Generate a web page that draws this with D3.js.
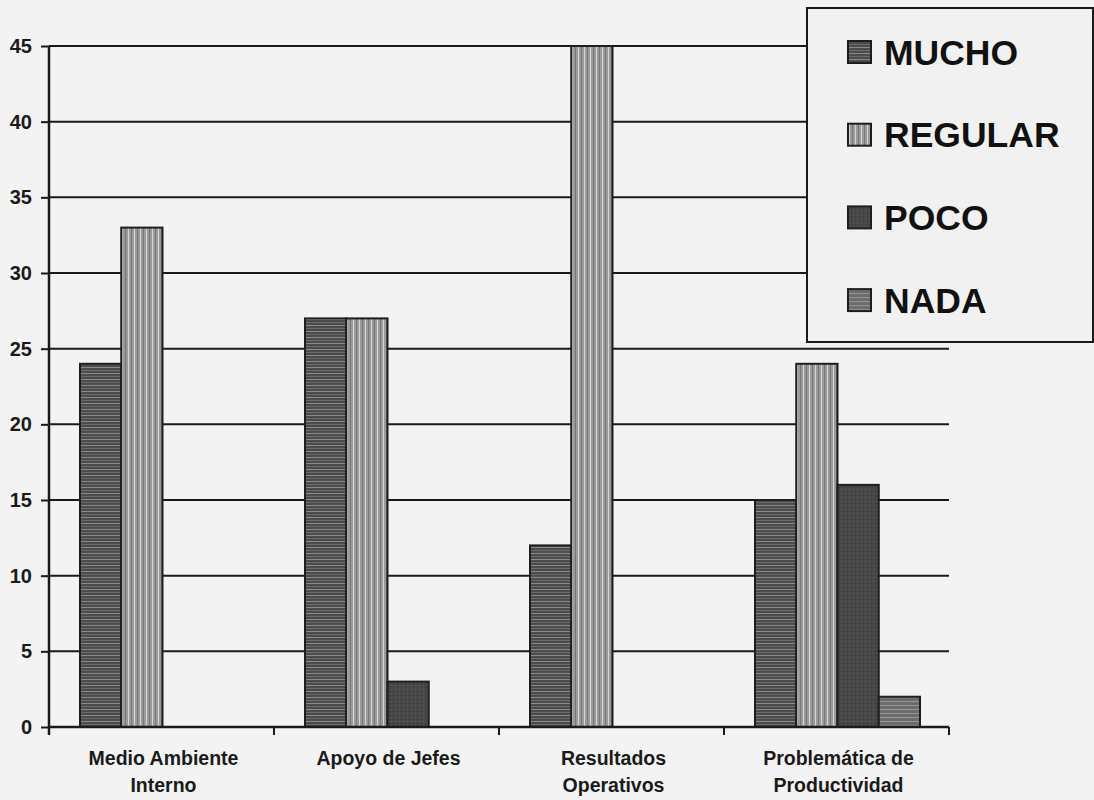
<!DOCTYPE html>
<html>
<head>
<meta charset="utf-8">
<script src="https://cdn.jsdelivr.net/npm/d3@7"></script>
<style>
  html, body { margin: 0; padding: 0; background: #f3f3f3; }
  svg { display: block; font-family: "Liberation Sans", Arial, sans-serif; }
</style>
</head>
<body>
<svg id="chart" width="1094" height="800"></svg>
<script>
// Survey responses per factor
const categories = [
  ["Medio Ambiente", "Interno"],
  ["Apoyo de Jefes"],
  ["Resultados", "Operativos"],
  ["Problemática de", "Productividad"]
];
const seriesNames = ["MUCHO", "REGULAR", "POCO", "NADA"];
const mucho   = [24, 27, 12, 15];
const regular = [33, 27, 45, 24];
const poco    = [0, 3, 0, 16];
const nada    = [0, 0, 0, 2];
const yTicks  = [0, 5, 10, 15, 20, 25, 30, 35, 40, 45];

const seriesValues = [mucho, regular, poco, nada];
const catKeys = categories.map(c => c.join(" "));

const svg = d3.select("#chart");
const plotLeft = 49, plotRight = 949, plotTop = 46, plotBottom = 727;

// Fill patterns for each series
const defs = svg.append("defs");

const pMucho = defs.append("pattern").attr("id", "pat-mucho")
  .attr("patternUnits", "userSpaceOnUse").attr("width", 8).attr("height", 6);
pMucho.append("rect").attr("width", 8).attr("height", 6).attr("fill", "#4c4c4c");
pMucho.append("rect").attr("y", 1).attr("width", 8).attr("height", 1).attr("fill", "#8a8a8a");
pMucho.append("rect").attr("y", 4).attr("width", 8).attr("height", 1).attr("fill", "#6a6a6a");

const pRegular = defs.append("pattern").attr("id", "pat-regular")
  .attr("patternUnits", "userSpaceOnUse").attr("width", 6).attr("height", 8);
pRegular.append("rect").attr("width", 6).attr("height", 8).attr("fill", "#9a9a9a");
pRegular.append("rect").attr("x", 1).attr("width", 1).attr("height", 8).attr("fill", "#d6d6d6");
pRegular.append("rect").attr("x", 4).attr("width", 1).attr("height", 8).attr("fill", "#777");

const pPoco = defs.append("pattern").attr("id", "pat-poco")
  .attr("patternUnits", "userSpaceOnUse").attr("width", 4).attr("height", 4);
pPoco.append("rect").attr("width", 4).attr("height", 4).attr("fill", "#474747");
pPoco.append("rect").attr("x", 1).attr("y", 1).attr("width", 1).attr("height", 1).attr("fill", "#5e5e5e");
pPoco.append("rect").attr("x", 3).attr("y", 3).attr("width", 1).attr("height", 1).attr("fill", "#393939");

const pNada = defs.append("pattern").attr("id", "pat-nada")
  .attr("patternUnits", "userSpaceOnUse").attr("width", 8).attr("height", 4);
pNada.append("rect").attr("width", 8).attr("height", 4).attr("fill", "#6c6c6c");
pNada.append("rect").attr("y", 1).attr("width", 8).attr("height", 1).attr("fill", "#959595");

const fills = ["url(#pat-mucho)", "url(#pat-regular)", "url(#pat-poco)", "url(#pat-nada)"];

// Scales
const x = d3.scaleBand().domain(catKeys).range([plotLeft, plotRight]).padding(0);
const xInner = d3.scaleBand().domain(seriesNames).range([31, x.bandwidth() - 29]).padding(0);
const y = d3.scaleLinear().domain([0, 45]).range([plotBottom, plotTop]);

// Horizontal gridlines
svg.append("g").selectAll("line").data(yTicks.filter(t => t > 0)).join("line")
  .attr("x1", plotLeft).attr("x2", plotRight)
  .attr("y1", d => y(d)).attr("y2", d => y(d))
  .attr("stroke", "#1a1a1a").attr("stroke-width", 2);

// Bars
const groups = svg.append("g").selectAll("g").data(catKeys).join("g")
  .attr("transform", d => `translate(${x(d)},0)`);
groups.selectAll("rect")
  .data((d, i) => seriesNames.map((s, j) => ({ s, j, v: seriesValues[j][i] })).filter(e => e.v > 0))
  .join("rect")
  .attr("x", e => xInner(e.s))
  .attr("width", xInner.bandwidth())
  .attr("y", e => y(e.v))
  .attr("height", e => y(0) - y(e.v))
  .attr("fill", e => fills[e.j])
  .attr("stroke", "#1e1e1e").attr("stroke-width", 2);

// Y axis
const yAxis = svg.append("g").attr("transform", `translate(${plotLeft},0)`)
  .call(d3.axisLeft(y).tickValues(yTicks).tickSize(8).tickPadding(9));
yAxis.select(".domain").remove();
yAxis.selectAll(".tick line").attr("stroke", "#1a1a1a").attr("stroke-width", 2);
yAxis.selectAll(".tick text").attr("font-size", 20).attr("font-weight", "bold")
  .attr("fill", "#1a1a1a").attr("font-family", "Liberation Sans, Arial, sans-serif");
svg.append("line").attr("x1", plotLeft).attr("x2", plotLeft).attr("y1", plotTop).attr("y2", plotBottom + 8)
  .attr("stroke", "#1a1a1a").attr("stroke-width", 2.5);

// X axis baseline, boundary ticks and labels
svg.append("line").attr("x1", plotLeft).attr("x2", plotRight).attr("y1", plotBottom).attr("y2", plotBottom)
  .attr("stroke", "#1a1a1a").attr("stroke-width", 2.5);
const bounds = catKeys.map(k => x(k)).concat([plotRight]);
svg.append("g").selectAll("line").data(bounds.slice(1)).join("line")
  .attr("x1", d => d).attr("x2", d => d).attr("y1", plotBottom).attr("y2", plotBottom + 8)
  .attr("stroke", "#1a1a1a").attr("stroke-width", 2);

const xLabels = svg.append("g").selectAll("text").data(categories).join("text")
  .attr("x", (d, i) => x(catKeys[i]) + x.bandwidth() / 2 + 2)
  .attr("y", 765)
  .attr("text-anchor", "middle")
  .attr("font-size", 19.5).attr("font-weight", "bold").attr("fill", "#1a1a1a");
xLabels.selectAll("tspan").data(d => d).join("tspan")
  .attr("x", function () { return d3.select(this.parentNode).attr("x"); })
  .attr("dy", (d, i) => i === 0 ? 0 : 27)
  .text(d => d);

// Legend
const legend = svg.append("g");
legend.append("rect").attr("x", 807).attr("y", 8).attr("width", 286).attr("height", 334)
  .attr("fill", "#f1f1f1").attr("stroke", "#1a1a1a").attr("stroke-width", 2);
const items = legend.selectAll("g").data(seriesNames).join("g")
  .attr("transform", (d, i) => `translate(848,${52 + i * 82.7})`);
items.append("rect").attr("x", 0).attr("y", -11).attr("width", 23).attr("height", 22)
  .attr("fill", (d, i) => fills[i]).attr("stroke", "#1e1e1e").attr("stroke-width", 2);
items.append("text").attr("x", 36).attr("y", 12.5)
  .attr("font-size", 35.5).attr("font-weight", "bold").attr("fill", "#111")
  .text(d => d);
</script>
</body>
</html>
